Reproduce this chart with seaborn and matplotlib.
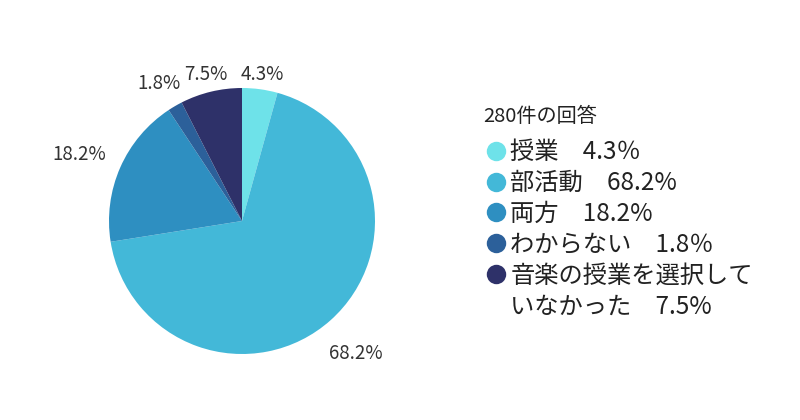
import matplotlib
matplotlib.use("Agg")
import numpy as np
import matplotlib.pyplot as plt
import seaborn as sns
from matplotlib.lines import Line2D

# data
categories = ["授業", "部活動", "両方", "わからない", "音楽の授業を選択して"]
extra_line = "いなかった"
shares = [4.3, 68.2, 18.2, 1.8, 7.5]
pie_labels = ["4.3%", "68.2%", "18.2%", "1.8%", "7.5%"]
legend_values = ["4.3％", "68.2%", "18.2%", "1.8％", "7.5%"]
legend_title = "280件の回答"
colors = ["#6ee2e9", "#43b8d8", "#2e8fc1", "#2c609a", "#2e3169"]

sns.set_theme(style="white")
plt.rcParams["font.family"] = ["Noto Sans CJK JP", "DejaVu Sans"]

fig = plt.figure(figsize=(8, 4.2), dpi=100)
ax = fig.add_axes([109 / 800, 66 / 420, 266 / 800, 266 / 420])

palette = sns.color_palette(colors)
wedges, texts = ax.pie(
    shares,
    labels=pie_labels,
    colors=palette,
    startangle=90,
    counterclock=False,
    labeldistance=1.2,
    wedgeprops=dict(linewidth=0),
    textprops=dict(fontsize=13.5, color="#333333"),
)
# push side labels a bit further out, like the original
for w, t in zip(wedges, texts):
    ang = np.deg2rad((w.theta1 + w.theta2) / 2)
    d = 1.12 + 0.24 * abs(np.cos(ang))
    t.set_position((d * np.cos(ang), d * np.sin(ang) - 0.04))
    t.set_horizontalalignment("center")
    t.set_verticalalignment("center")
ax.set_xlim(-1, 1)
ax.set_ylim(-1, 1)
ax.set_aspect("equal")

handles = [
    Line2D([], [], linestyle="none", marker="o", markersize=14,
           markerfacecolor=c, markeredgewidth=0)
    for c in palette
]
labels = [cat + "\u3000" + val for cat, val in zip(categories, legend_values)]
# last answer wraps onto a second line without a marker
labels[-1] = categories[-1]
handles.append(Line2D([], [], linestyle="none", marker="none"))
labels.append(extra_line + "\u3000" + legend_values[-1])

fig.text(483 / 800, 1 - 116 / 420, legend_title, fontsize=14.5,
         color="#222222", va="center", ha="left")

leg = fig.legend(
    handles, labels,
    loc="upper left",
    bbox_to_anchor=(474 / 800, 1 - 127 / 420),
    frameon=False,
    fontsize=17.5,
    handlelength=0.8,
    handletextpad=0.2,
    labelspacing=0.2,
    borderpad=0,
)
for t in leg.get_texts():
    t.set_color("#222222")

fig.savefig("out.png", dpi=100)
